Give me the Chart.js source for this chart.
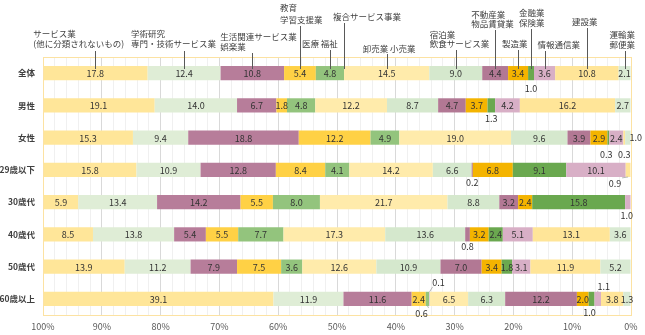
<!DOCTYPE html>
<html>
<head>
<meta charset="utf-8">
<script src="https://cdn.jsdelivr.net/npm/chart.js@4/dist/chart.umd.min.js"></script>
<style>
  html, body { margin: 0; padding: 0; background: #fff; }
  canvas { display: block; }
</style>
</head>
<body>
<canvas id="chart" width="645" height="335"></canvas>
<script>
// rows: overall, by sex, by age group
const groups = ['全体', '男性', '女性', '29歳以下', '30歳代', '40歳代', '50歳代', '60歳以上'];

// share of each industry (%), one value per group
const serviceOther  = [17.8, 19.1, 15.3, 15.8,  5.9,  8.5, 13.9, 39.1];
const academic      = [12.4, 14.0,  9.4, 10.9, 13.4, 13.8, 11.2, 11.9];
const lifestyle     = [10.8,  6.7, 18.8, 12.8, 14.2,  5.4,  7.9, 11.6];
const education     = [ 5.4,  1.8, 12.2,  8.4,  5.5,  5.5,  7.5,  2.4];
const medical       = [ 4.8,  4.8,  4.9,  4.1,  8.0,  7.7,  3.6,  0.6];
const compound      = [ 0,    0,    0,    0,    0,    0,    0,    0.1];
const wholesale     = [14.5, 12.2, 19.0, 14.2, 21.7, 17.3, 12.6,  6.5];
const hotel         = [ 9.0,  8.7,  9.6,  6.6,  8.8, 13.6, 10.9,  6.3];
const realEstate    = [ 4.4,  4.7,  3.9,  0.2,  3.2,  0.8,  7.0, 12.2];
const manufacturing = [ 3.4,  3.7,  2.9,  6.8,  2.4,  3.2,  3.4,  2.0];
const finance       = [ 1.0,  1.3,  0.3,  9.1, 15.8,  2.4,  1.8,  1.0];
const infoComm      = [ 3.6,  4.2,  2.4, 10.1,  1.0,  5.1,  3.1,  1.1];
const construction  = [10.8, 16.2,  0.3,  0.9,  0,   13.1, 11.9,  3.8];
const transport     = [ 2.1,  2.7,  1.0,  0,    0,    3.6,  5.2,  1.3];

const xTicks = [100, 90, 80, 70, 60, 50, 40, 30, 20, 10, 0];

// left to right as they appear in each bar
const industries = [
  { name: 'サービス業(他に分類されないもの)', data: serviceOther,  color: '#FFE699' },
  { name: '学術研究，専門・技術サービス業',   data: academic,      color: '#DFEDD6' },
  { name: '生活関連サービス業，娯楽業',       data: lifestyle,     color: '#B77D9A' },
  { name: '教育，学習支援業',                 data: education,     color: '#FFD145' },
  { name: '医療，福祉',                       data: medical,       color: '#93C47D' },
  { name: '複合サービス事業',                 data: compound,      color: '#E3BFD2' },
  { name: '卸売業，小売業',                   data: wholesale,     color: '#FFEBAB' },
  { name: '宿泊業，飲食サービス業',           data: hotel,         color: '#D5E8CD' },
  { name: '不動産業，物品賃貸業',             data: realEstate,    color: '#B27894' },
  { name: '製造業',                           data: manufacturing, color: '#F4B400' },
  { name: '金融業，保険業',                   data: finance,       color: '#6AA84F' },
  { name: '情報通信業',                       data: infoComm,      color: '#D8AFC6' },
  { name: '建設業',                           data: construction,  color: '#FFE598' },
  { name: '運輸業，郵便業',                   data: transport,     color: '#D9EAD3' }
];

// callout text above the first row: lines, text left offset from leader, line y's, leader start y
const callouts = [
  { lines: ['サービス業', '(他に分類されないもの)'], dx: -62, ys: [34, 44], from: 51 },
  { lines: ['学術研究', '専門・技術サービス業'], dx: -53, ys: [34, 44], from: 51 },
  { lines: ['生活関連サービス業', '娯楽業'], dx: -32, ys: [37, 47], from: 53 },
  { lines: ['教育', '学習支援業'], dx: -20, ys: [8, 20], from: 26 },
  { lines: ['医療 福祉'], dx: -28, ys: [44], from: 50 },
  { lines: ['複合サービス事業'], dx: -11, ys: [17], from: 23 },
  { lines: ['卸売業 小売業'], dx: -24, ys: [49], from: 54 },
  { lines: ['宿泊業', '飲食サービス業'], dx: -26, ys: [35, 44], from: 50 },
  { lines: ['不動産業', '物品賃貸業'], dx: -24, ys: [15, 24], from: 30 },
  { lines: ['製造業'], dx: -16, ys: [44], from: 50 },
  { lines: ['金融業', '保険業'], dx: -12, ys: [13, 23], from: 29 },
  { lines: ['情報通信業'], dx: -7, ys: [45], from: 51 },
  { lines: ['建設業'], dx: -15, ys: [22], from: 28 },
  { lines: ['運輸業', '郵便業'], dx: -15, ys: [35, 45], from: 51 }
];

// value labels that sit outside their (thin) segment: "row-industry" -> offset
const moved = {
  '0-10': { dx: 0, dy: 15 },
  '1-10': { dx: 0, dy: 13 },
  '2-10': { dx: -2, dy: 16 },
  '2-12': { dx: 0, dy: 16 },
  '2-13': { dx: 8, dy: -1 },
  '3-8':  { dx: 0, dy: 12 },
  '3-12': { dx: -13, dy: 13, leader: true },
  '4-11': { dx: -1, dy: 13 },
  '5-8':  { dx: 0, dy: 12 },
  '7-4':  { dx: -6, dy: 14, leader: true },
  '7-5':  { dx: 9, dy: -17, leader: true },
  '7-10': { dx: -2, dy: 13 },
  '7-11': { dx: 6, dy: -13, leader: true }
};

const FONT = '"Noto Sans CJK JP", "Noto Sans", sans-serif';

// the x axis runs 100 -> 0, and stacking starts at 0, so feed the datasets right to left
const datasets = industries.map((ind, k) => ({
  label: ind.name,
  data: ind.data,
  idx: k,
  backgroundColor: ind.color,
  borderWidth: 0,
  categoryPercentage: 1,
  barPercentage: 0.44
})).reverse();

function barOf(chart, industry, row) {
  const d = chart.data.datasets.findIndex(ds => ds.idx === industry);
  return chart.getDatasetMeta(d).data[row];
}

const plotFrame = {
  id: 'plotFrame',
  afterDatasetsDraw(chart) {
    const a = chart.chartArea, ctx = chart.ctx;
    ctx.save();
    ctx.strokeStyle = '#FCE2A2';
    ctx.lineWidth = 1;
    ctx.strokeRect(Math.round(a.left) + 0.5, Math.round(a.top) + 0.5,
      Math.round(a.right - a.left), Math.round(a.bottom - a.top));
    ctx.restore();
  }
};

const valueLabels = {
  id: 'valueLabels',
  afterDraw(chart) {
    const ctx = chart.ctx;
    ctx.save();
    ctx.font = '9px ' + FONT;
    ctx.fillStyle = '#333333';
    ctx.textAlign = 'center';
    ctx.textBaseline = 'middle';
    industries.forEach((ind, i) => {
      ind.data.forEach((v, j) => {
        if (!v) return;
        const bar = barOf(chart, i, j);
        const cx = (bar.x + bar.base) / 2;
        const m = moved[j + '-' + i];
        let tx = cx, ty = bar.y;
        if (m) {
          tx += m.dx;
          ty += m.dy;
          if (m.leader) {
            const edge = m.dy > 0 ? bar.y + bar.height / 2 : bar.y - bar.height / 2;
            ctx.strokeStyle = '#A6A6A6';
            ctx.lineWidth = 0.8;
            ctx.beginPath();
            ctx.moveTo(tx + (m.dx > 0 ? -6 : 7), ty + (m.dy > 0 ? -5 : 5));
            ctx.lineTo(cx, edge);
            ctx.stroke();
          }
        }
        ctx.fillText(v.toFixed(1), tx, ty + 0.5);
      });
    });
    ctx.restore();
  }
};

const industryCallouts = {
  id: 'industryCallouts',
  afterDraw(chart) {
    const ctx = chart.ctx;
    ctx.save();
    ctx.font = '8.5px ' + FONT;
    ctx.fillStyle = '#404040';
    ctx.textAlign = 'left';
    ctx.textBaseline = 'middle';
    ctx.strokeStyle = '#595959';
    ctx.lineWidth = 1;
    callouts.forEach((c, i) => {
      const bar = barOf(chart, i, 0);
      const x = (bar.x + bar.base) / 2;
      const top = bar.y - bar.height / 2;
      c.lines.forEach((t, k) => ctx.fillText(t, x + c.dx, c.ys[k]));
      const lx = Math.round(x) + 0.5;
      ctx.beginPath();
      ctx.moveTo(lx, c.from);
      ctx.lineTo(lx, top + 3);
      ctx.stroke();
    });
    ctx.restore();
  }
};

new Chart(document.getElementById('chart').getContext('2d'), {
  type: 'bar',
  data: { labels: groups, datasets: datasets },
  options: {
    indexAxis: 'y',
    responsive: false,
    animation: false,
    devicePixelRatio: 1,
    layout: { padding: { top: 57, right: 14, left: 0, bottom: 0 } },
    plugins: {
      legend: { display: false },
      tooltip: { enabled: false }
    },
    scales: {
      x: {
        stacked: true,
        reverse: true,
        min: 0,
        max: 100,
        afterFit(scale) { scale.height = 20; },
        ticks: {
          stepSize: 2,
          autoSkip: false,
          maxRotation: 0,
          padding: 6,
          color: '#595959',
          font: { size: 9, family: FONT },
          callback: v => xTicks.includes(v) ? v + '%' : ''
        },
        grid: {
          drawTicks: false,
          color: c => (c.tick && c.tick.value % 10 === 0) ? '#D9D9D9' : '#F0F0F0'
        },
        border: { display: false }
      },
      y: {
        stacked: true,
        afterFit(scale) { scale.width = 43; },
        ticks: {
          padding: 8,
          color: '#404040',
          font: { size: 8.5, weight: 'bold', family: FONT }
        },
        grid: { display: false, drawTicks: false },
        border: { display: false }
      }
    }
  },
  plugins: [plotFrame, valueLabels, industryCallouts]
});
</script>
</body>
</html>
